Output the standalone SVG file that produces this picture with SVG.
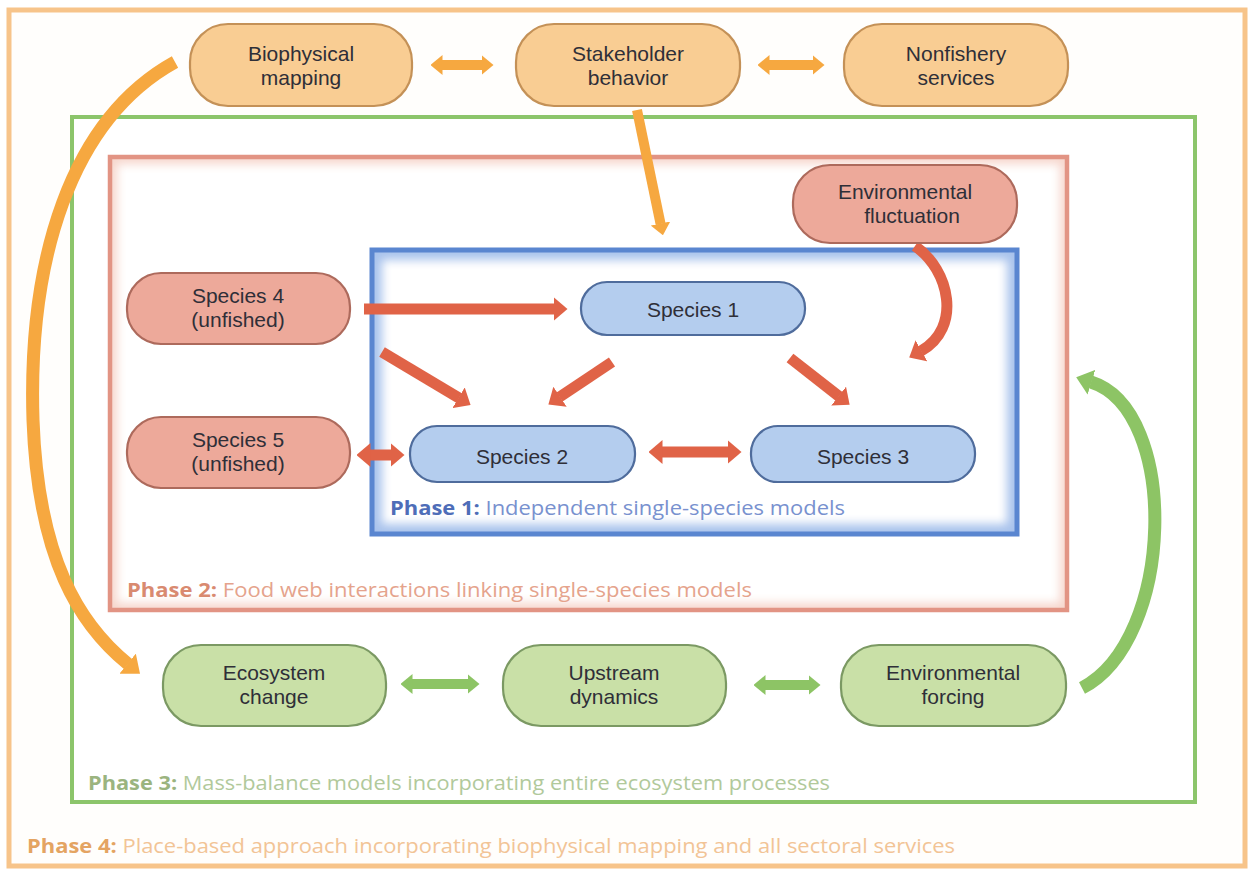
<svg xmlns="http://www.w3.org/2000/svg" width="1252" height="871" viewBox="0 0 1252 871">
<style>
  text { font-family: "Open Sans", "Noto Sans", "Liberation Sans", sans-serif; }
  .lbl { font-family: "Liberation Sans", Arial, sans-serif; font-size: 21px; fill: #2f2f38; text-anchor: middle; }
  .ph { font-size: 20px; }
  .b { font-weight: 700; }
  .on { fill: #f9cd93; stroke: #c49157; stroke-width: 2.2; }
  .rn { fill: #eda99a; stroke: #ad6a5c; stroke-width: 2.2; }
  .bn { fill: #b4cdee; stroke: #4f6c9c; stroke-width: 2.2; }
  .gn { fill: #c9e0a7; stroke: #7b9963; stroke-width: 2.2; }
  .ra { fill: none; stroke: #e06347; stroke-width: 11; }
  .oa { fill: none; stroke: #f6a840; }
  .ga { fill: none; stroke: #8dc465; }
</style>
<defs>
  <marker id="hr" viewBox="0 0 14 24" refX="0.5" refY="12" markerWidth="14" markerHeight="24" markerUnits="userSpaceOnUse" orient="auto-start-reverse">
    <path d="M0,0 L14,12 L0,24 z" fill="#e06347"/>
  </marker>
  <marker id="ho" viewBox="0 0 12 20" refX="0.5" refY="10" markerWidth="12" markerHeight="20" markerUnits="userSpaceOnUse" orient="auto-start-reverse">
    <path d="M0,0 L12,10 L0,20 z" fill="#f6a840"/>
  </marker>
  <marker id="hoL" viewBox="0 0 16 26" refX="0.5" refY="13" markerWidth="16" markerHeight="26" markerUnits="userSpaceOnUse" orient="auto-start-reverse">
    <path d="M0,0 L16,13 L0,26 z" fill="#f6a840"/>
  </marker>
  <marker id="hg" viewBox="0 0 12 20" refX="0.5" refY="10" markerWidth="12" markerHeight="20" markerUnits="userSpaceOnUse" orient="auto-start-reverse">
    <path d="M0,0 L12,10 L0,20 z" fill="#8dc465"/>
  </marker>
  <marker id="hgL" viewBox="0 0 16 26" refX="0.5" refY="13" markerWidth="16" markerHeight="26" markerUnits="userSpaceOnUse" orient="auto-start-reverse">
    <path d="M0,0 L16,13 L0,26 z" fill="#8dc465"/>
  </marker>
  <filter id="blur" x="-5%" y="-5%" width="110%" height="110%">
    <feGaussianBlur stdDeviation="5"/>
  </filter>
  <clipPath id="clipB"><rect x="372" y="250" width="645" height="284"/></clipPath>
  <clipPath id="clipR"><rect x="110" y="157" width="957" height="453"/></clipPath>
</defs>

<rect x="0" y="0" width="1252" height="871" fill="#ffffff"/>

<!-- Frames -->
<g id="phase4-frame">
  <rect x="9" y="10" width="1236" height="856" fill="#fffefc" stroke="#f7c48a" stroke-width="5"/>
</g>
<g id="phase3-frame">
  <rect x="72" y="117" width="1123" height="685" fill="#ffffff" stroke="#8cc56b" stroke-width="4"/>
</g>
<g id="phase2-frame">
  <rect x="110" y="157" width="957" height="453" fill="#ffffff" stroke="none"/>
  <g clip-path="url(#clipR)">
    <rect x="110" y="157" width="957" height="453" fill="none" stroke="#f6d6cc" stroke-width="14" filter="url(#blur)"/>
  </g>
  <rect x="110" y="157" width="957" height="453" fill="none" stroke="#e29484" stroke-width="4.5"/>
</g>
<g id="phase1-frame">
  <rect x="372" y="250" width="645" height="284" fill="#ffffff" stroke="none"/>
  <g clip-path="url(#clipB)">
    <rect x="372" y="250" width="645" height="284" fill="none" stroke="#a9c3ec" stroke-width="20" filter="url(#blur)"/>
  </g>
  <rect x="372" y="250" width="645" height="284" fill="none" stroke="#5a86d0" stroke-width="5"/>
</g>

<!-- Phase labels -->
<text class="ph" x="390" y="515" textLength="455" lengthAdjust="spacingAndGlyphs"><tspan class="b" fill="#4e6db8">Phase 1:</tspan><tspan fill="#7891cf"> Independent single-species models</tspan></text>
<text class="ph" x="127" y="597" textLength="625" lengthAdjust="spacingAndGlyphs"><tspan class="b" fill="#d98a70">Phase 2:</tspan><tspan fill="#e5a38c"> Food web interactions linking single-species models</tspan></text>
<text class="ph" x="88" y="790" textLength="742" lengthAdjust="spacingAndGlyphs"><tspan class="b" fill="#9bb47f">Phase 3:</tspan><tspan fill="#b1c99b"> Mass-balance models incorporating entire ecosystem processes</tspan></text>
<text class="ph" x="27" y="853" textLength="928" lengthAdjust="spacingAndGlyphs"><tspan class="b" fill="#e4a462">Phase 4:</tspan><tspan fill="#f2c496"> Place-based approach incorporating biophysical mapping and all sectoral services</tspan></text>

<!-- Connectors -->
<g id="connectors">
  <line class="oa" x1="442" y1="65" x2="482" y2="65" stroke-width="10" marker-start="url(#ho)" marker-end="url(#ho)"/>
  <line class="oa" x1="769" y1="65" x2="813" y2="65" stroke-width="10" marker-start="url(#ho)" marker-end="url(#ho)"/>
  <line class="oa" x1="637" y1="110" x2="660.6" y2="224" stroke-width="10" marker-end="url(#ho)"/>
  <path class="oa" d="M 175 62 C 70 120, 28 260, 33 420 C 38 560, 80 625, 128 664" stroke-width="13" marker-end="url(#hoL)"/>
  <line class="ra" x1="364" y1="309" x2="554" y2="309" marker-end="url(#hr)"/>
  <line class="ra" x1="382" y1="352" x2="459" y2="398" marker-end="url(#hr)"/>
  <line class="ra" x1="612" y1="362" x2="559.6" y2="397" marker-end="url(#hr)"/>
  <line class="ra" x1="790" y1="358" x2="839" y2="396.4" marker-end="url(#hr)"/>
  <path class="ra" d="M 915 246 C 950 270, 962 328, 921 351" marker-end="url(#hr)"/>
  <line class="ra" x1="370" y1="455" x2="391" y2="455" marker-start="url(#hr)" marker-end="url(#hr)"/>
  <line class="ra" x1="662" y1="452" x2="728" y2="452" marker-start="url(#hr)" marker-end="url(#hr)"/>
  <line class="ga" x1="412" y1="684" x2="468" y2="684" stroke-width="10" marker-start="url(#hg)" marker-end="url(#hg)"/>
  <line class="ga" x1="765" y1="685" x2="809" y2="685" stroke-width="10" marker-start="url(#hg)" marker-end="url(#hg)"/>
  <path class="ga" d="M 1082 688 C 1175 640, 1180 410, 1091 382" stroke-width="13" marker-end="url(#hgL)"/>
</g>

<!-- Phase 4 nodes -->
<g id="biophysical-mapping">
  <rect class="on" x="190" y="24" width="222" height="82" rx="38"/>
  <text class="lbl" x="301" y="61">Biophysical<tspan x="301" dy="24">mapping</tspan></text>
</g>
<g id="stakeholder-behavior">
  <rect class="on" x="516" y="24" width="224" height="82" rx="38"/>
  <text class="lbl" x="628" y="61">Stakeholder<tspan x="628" dy="24">behavior</tspan></text>
</g>
<g id="nonfishery-services">
  <rect class="on" x="844" y="24" width="224" height="82" rx="38"/>
  <text class="lbl" x="956" y="61">Nonfishery<tspan x="956" dy="24">services</tspan></text>
</g>

<!-- Phase 2 nodes -->
<g id="environmental-fluctuation">
  <rect class="rn" x="793" y="165" width="224" height="78" rx="37"/>
  <text class="lbl" x="905" y="199">Environmental<tspan x="912" dy="24">fluctuation</tspan></text>
</g>
<g id="species-4">
  <rect class="rn" x="127" y="273" width="223" height="71" rx="34"/>
  <text class="lbl" x="238" y="303">Species 4<tspan x="238" dy="24">(unfished)</tspan></text>
</g>
<g id="species-5">
  <rect class="rn" x="127" y="417" width="223" height="71" rx="34"/>
  <text class="lbl" x="238" y="447">Species 5<tspan x="238" dy="24">(unfished)</tspan></text>
</g>

<!-- Phase 1 nodes -->
<g id="species-1">
  <rect class="bn" x="581" y="282" width="224" height="53" rx="26"/>
  <text class="lbl" x="693" y="317">Species 1</text>
</g>
<g id="species-2">
  <rect class="bn" x="410" y="426" width="225" height="56" rx="27"/>
  <text class="lbl" x="522" y="464">Species 2</text>
</g>
<g id="species-3">
  <rect class="bn" x="751" y="426" width="224" height="56" rx="27"/>
  <text class="lbl" x="863" y="464">Species 3</text>
</g>

<!-- Phase 3 nodes -->
<g id="ecosystem-change">
  <rect class="gn" x="163" y="645" width="223" height="81" rx="38"/>
  <text class="lbl" x="274" y="680">Ecosystem<tspan x="274" dy="24">change</tspan></text>
</g>
<g id="upstream-dynamics">
  <rect class="gn" x="503" y="645" width="223" height="81" rx="38"/>
  <text class="lbl" x="614" y="680">Upstream<tspan x="614" dy="24">dynamics</tspan></text>
</g>
<g id="environmental-forcing">
  <rect class="gn" x="841" y="645" width="225" height="81" rx="38"/>
  <text class="lbl" x="953" y="680">Environmental<tspan x="953" dy="24">forcing</tspan></text>
</g>
</svg>
